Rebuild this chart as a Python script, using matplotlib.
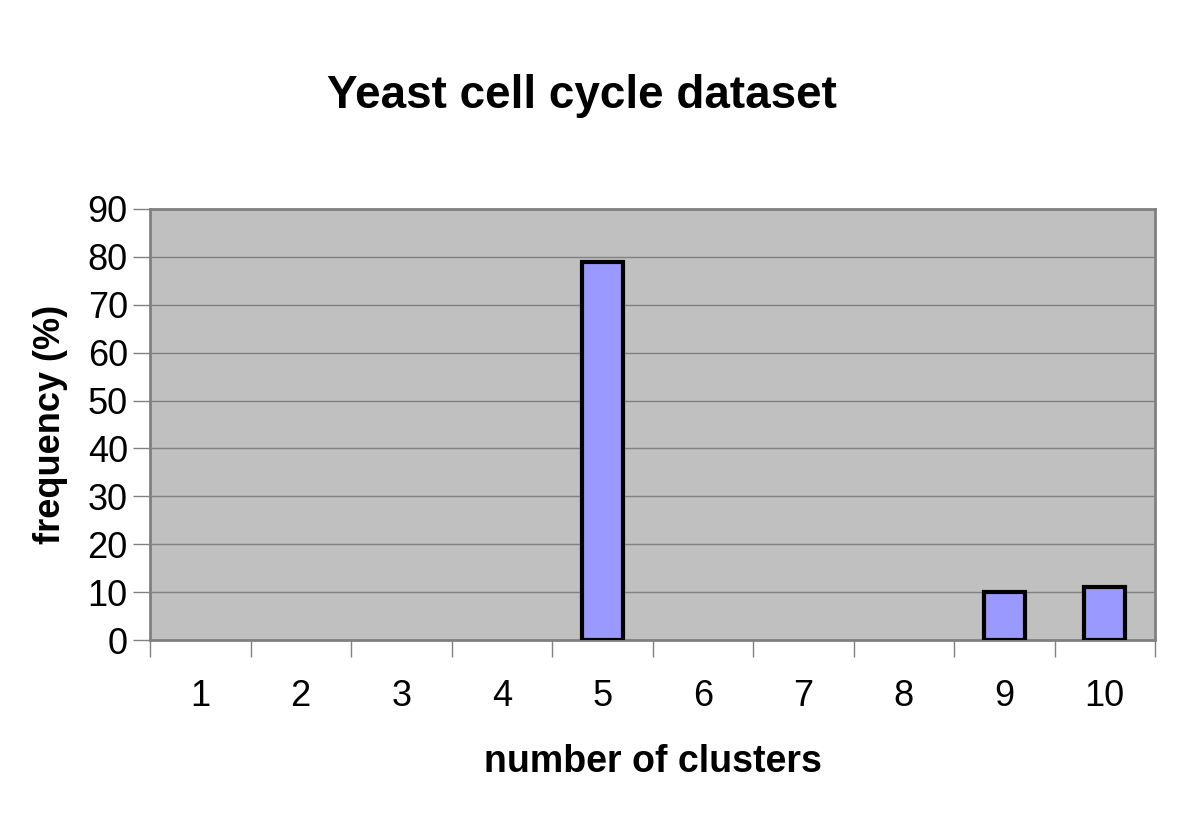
import matplotlib
matplotlib.use("Agg")
import matplotlib.pyplot as plt
import numpy as np

categories = [1, 2, 3, 4, 5, 6, 7, 8, 9, 10]
frequency = [0, 0, 0, 0, 79, 0, 0, 0, 10, 11]
yticks = [0, 10, 20, 30, 40, 50, 60, 70, 80, 90]

plt.rcParams['font.family'] = ['Liberation Sans', 'DejaVu Sans']

fig = plt.figure(figsize=(12, 8.36), dpi=100)
ax = fig.add_axes([0.125, 0.2344, 0.8375, 0.5156])
ax.set_facecolor('#C0C0C0')

x = np.arange(len(categories))
vals = np.array(frequency, dtype=float)
mask = vals > 0
ax.bar(x[mask], vals[mask], width=0.41, color='#9999FF', edgecolor='black', linewidth=3, zorder=3)

ax.set_xlim(-0.5, len(categories) - 0.5)
ax.set_ylim(0, 90)
ax.set_yticks(yticks)
ax.set_yticklabels([str(v) for v in yticks], fontsize=26)
ax.yaxis.grid(True, color='#808080', linewidth=1, zorder=0)
ax.set_axisbelow(True)

ax.set_xticks(x)
ax.set_xticklabels([str(c) for c in categories], fontsize=26)
ax.tick_params(axis='x', which='major', length=0, pad=28)
ax.set_xticks(np.arange(len(categories) + 1) - 0.5, minor=True)
ax.tick_params(axis='x', which='minor', length=12, color='#808080', width=1)
ax.tick_params(axis='y', length=12, color='#808080', width=1, pad=4)

for s in ax.spines.values():
    s.set_color('#808080')
    s.set_linewidth(2)

ax.set_xlabel('number of clusters', fontsize=27, fontweight='bold', labelpad=22)
ax.set_ylabel('frequency (%)', fontsize=26, fontweight='bold', labelpad=14)
fig.text(0.485, 0.885, 'Yeast cell cycle dataset', fontsize=33, fontweight='bold', ha='center', va='center')

fig.savefig('out.png', dpi=100, facecolor='white')
